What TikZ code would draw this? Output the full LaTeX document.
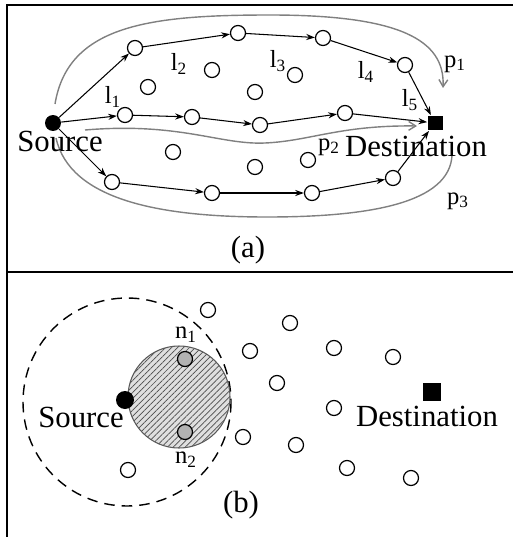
\documentclass[tikz,border=0pt]{standalone}
\usepackage{fontspec}
\setmainfont{Liberation Serif}
\usetikzlibrary{arrows.meta,patterns.meta}

\begin{document}
\begin{tikzpicture}[x=0.02cm, y=-0.02cm, font=\fontsize{17.5}{20}\selectfont,
  relay/.style={circle, draw, fill=white, line width=0.7pt, minimum size=0.3cm, inner sep=0pt},
  src/.style={circle, fill=black, minimum size=0.32cm, inner sep=0pt},
  dst/.style={rectangle, fill=black, minimum size=0.3cm, inner sep=0pt},
  hop/.style={-{Stealth[length=5pt,width=3.5pt]}, line width=0.6pt},
  route/.style={-{Straight Barb[length=4pt,width=5pt]}, gray, line width=0.8pt},
  lbl/.style={font=\fontsize{14}{16}\selectfont, inner sep=0pt}]
\useasboundingbox (0,0) rectangle (513,537);
% frame of the two panels
\draw[line width=1.2pt] (7,537) -- (7,5) -- (513,5);
\draw[line width=1.2pt] (7,272) -- (513,272);

% ---- (a) three disjoint routes from source to destination
\node[src] (s) at (53,123) {};
\node[dst] (d) at (435,123) {};
\foreach \n/\x/\y in {t1/135/48, t2/238/33, t3/323/38, t4/405/65} {\node[relay] (\n) at (\x,\y) {};}
\foreach \n/\x/\y in {m1/125/115, m2/192/117, m3/260/125, m4/345/113} {\node[relay] (\n) at (\x,\y) {};}
\foreach \n/\x/\y in {b1/112/182, b2/212/193, b3/312/193, b4/393/178} {\node[relay] (\n) at (\x,\y) {};}
% nodes on no route
\foreach \n/\x/\y in {i1/148/87, i2/212/70, i3/295/75, i4/255/92, i5/173/152, i6/255/167, i7/308/160} {\node[relay] (\n) at (\x,\y) {};}
\foreach \a/\b in {s/t1, t1/t2, t2/t3, t3/t4, t4/d, s/m1, m1/m2, m2/m3, m3/m4, m4/d, s/b1, b1/b2, b2/b3, b3/b4, b4/d} {\draw[hop] (\a) -- (\b);}
% link labels
\node[lbl] (l1) at (113,97) {l\textsubscript{1}};
\node[lbl] (l2) at (179,64) {l\textsubscript{2}};
\node[lbl] (l3) at (278,61) {l\textsubscript{3}};
\node[lbl] (l4) at (366,72) {l\textsubscript{4}};
\node[lbl] (l5) at (410,100) {l\textsubscript{5}};
% routes p1, p2, p3
\draw[route] (55,104) .. controls (68,25) and (150,15) .. (270,15) .. controls (400,15) and (445,40) .. (443,88);
\draw[route] (85,130) .. controls (180,122) and (220,145) .. (265,143) .. controls (310,141) and (340,125) .. (417,126);
\draw[gray, line width=0.8pt] (56,138) .. controls (70,200) and (160,217) .. (267,217) .. controls (380,217) and (455,200) .. (452,150);
\node[lbl] (p1) at (455,64) {p\textsubscript{1}};
\node[lbl] (p2) at (329,147) {p\textsubscript{2}};
\node[lbl] (p3) at (458,201) {p\textsubscript{3}};
\node (srca) at (60,141) {Source};
\node (dsta) at (416,146) {Destination};
\node (capa) at (248,250) {(a)};

% ---- (b) range of the source and its neighbours
\draw[dashed, dash pattern=on 6pt off 4pt, line width=0.8pt] (127,402) circle[radius=104];
\draw[gray!70!black, line width=0.6pt, preaction={fill=gray!25},
  pattern={Lines[angle=45, distance=2.4pt, line width=0.4pt]}, pattern color=gray!60!black]
  (179,397) circle[radius=51];
\node[relay, fill=gray!60] (n1) at (185,359) {};
\node[relay, fill=gray!60] (n2) at (185,432) {};
\node[src, minimum size=0.36cm] (sb) at (125,400) {};
\node[dst, minimum size=0.36cm] (db) at (432,392) {};
\foreach \n/\x/\y in {r1/208/310, r2/290/323, r3/250/351, r4/334/348, r5/393/357, r6/277/383, r7/334/408, r8/243/437, r9/296/445, r10/347/468, r11/411/478, r12/128/470} {\node[relay] (\n) at (\x,\y) {};}
\node[lbl] (ln1) at (186,335) {n\textsubscript{1}};
\node[lbl] (ln2) at (186,460) {n\textsubscript{2}};
\node (srcb) at (81,417) {Source};
\node (dstb) at (427,416) {Destination};
\node (capb) at (241,505) {(b)};
\end{tikzpicture}
\end{document}
